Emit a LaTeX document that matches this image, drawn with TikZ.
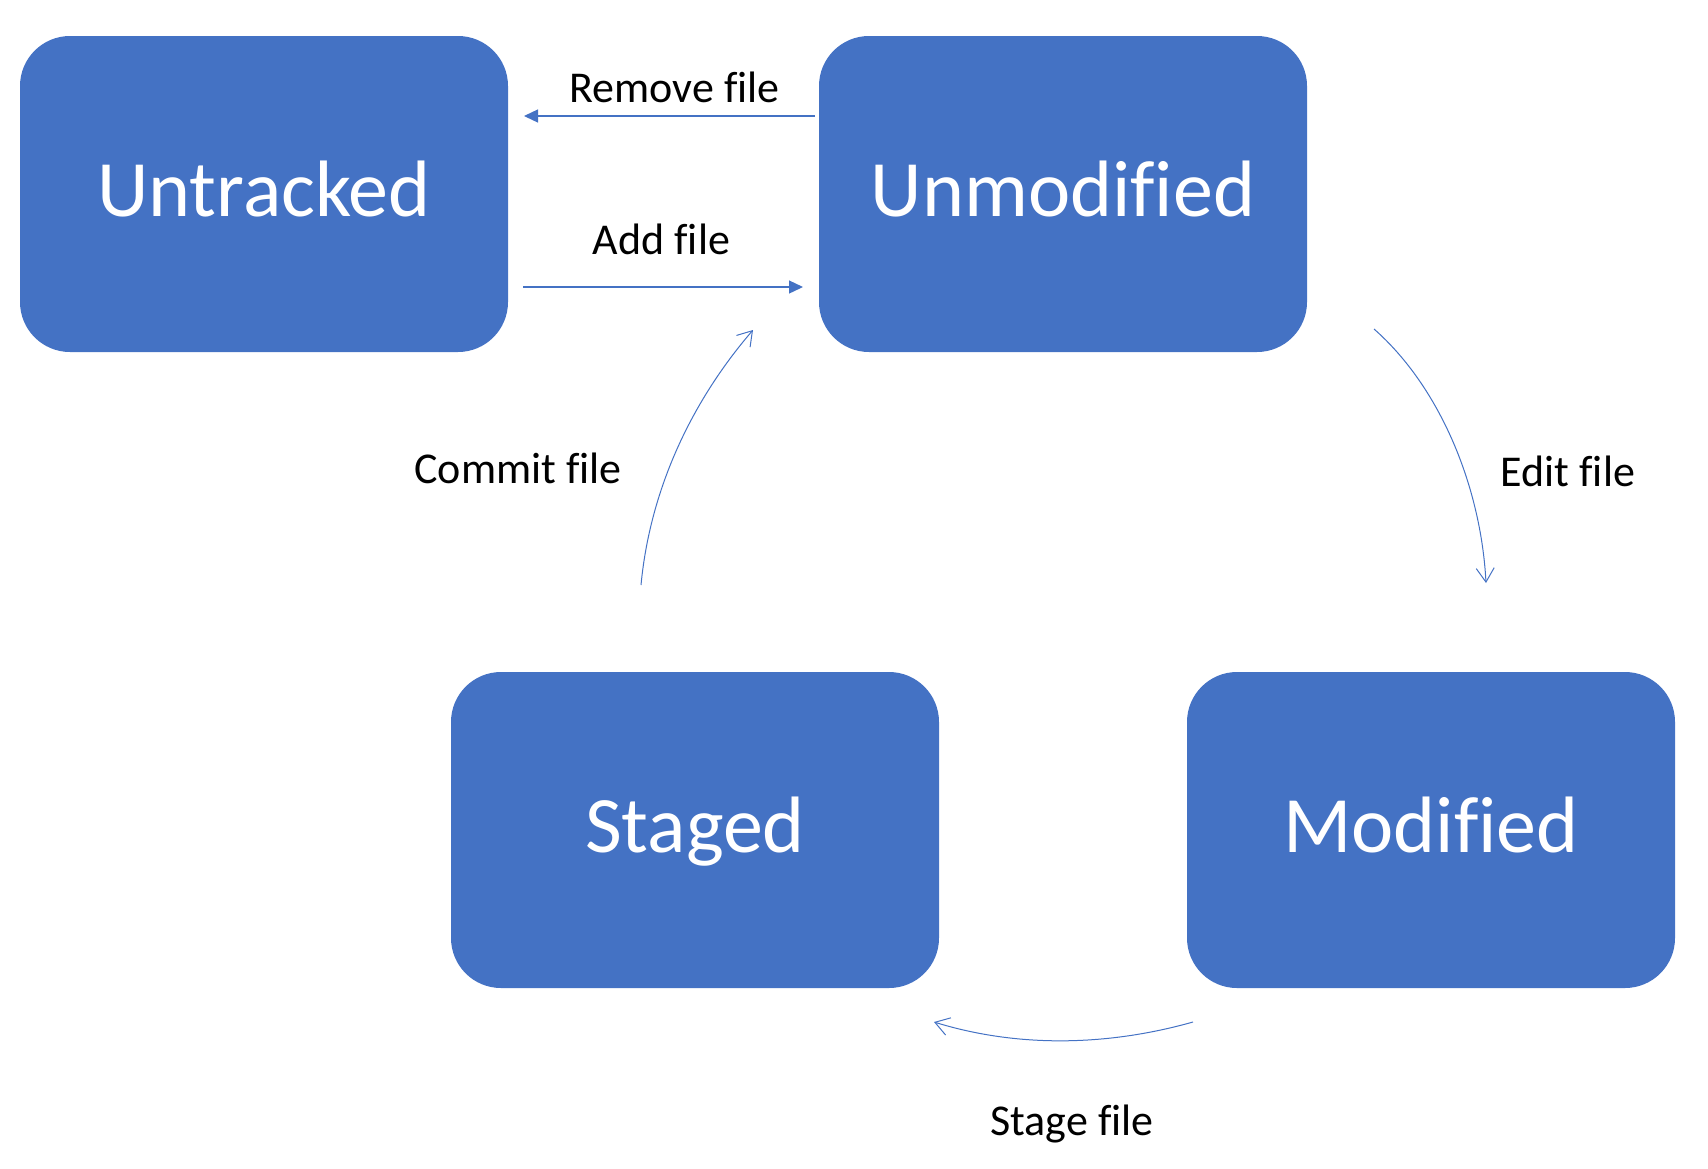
\documentclass[tikz,border=0pt]{standalone}
\usepackage{fontspec}
\setmainfont{Carlito}[Ligatures=NoCommon]
\usetikzlibrary{arrows.meta}
\definecolor{boxblue}{HTML}{4472C4}
\tikzset{
  statebox/.style={rectangle, rounded corners=25pt, fill=boxblue, draw=none,
    minimum width=244pt, minimum height=158pt, inner sep=0pt,
    text=white, font=\fontsize{40}{48}\selectfont, text height=22pt, text depth=0pt},
  lbl/.style={anchor=base, inner sep=0pt, text=black, font=\fontsize{22}{26}\selectfont},
  straightarrow/.style={draw=boxblue, line width=0.65pt, -{Triangle[length=7pt,width=6.5pt]}},
  curvearrow/.style={draw=boxblue, line width=0.5pt, -{Straight Barb[length=7pt,width=9pt]}}
}
\begin{document}
\begin{tikzpicture}[x=0.5pt, y=-0.5pt]
\useasboundingbox (0,0) rectangle (1708,1168);
% boxes
\node[statebox] (untracked)  at (264,194)  {Untracked};
\node[statebox] (unmodified) at (1063,194) {Unmodified};
\node[statebox] (staged)     at (695,830)  {Staged};
\node[statebox] (modified)   at (1431,830) {Modified};
% connector end points
\coordinate (rmS) at (815,116);
\coordinate (rmE) at (524,116);
\coordinate (adS) at (523,287);
\coordinate (adE) at (803,287);
\coordinate (cmS) at (641,585);
\coordinate (cmE) at (753,330);
\coordinate (edS) at (1374,329);
\coordinate (edE) at (1486,583);
\coordinate (stS) at (1193,1022);
\coordinate (stE) at (934,1022);
% connectors
\draw[straightarrow] (rmS) -- (rmE);
\draw[straightarrow] (adS) -- (adE);
\draw[curvearrow] (cmS) .. controls (650,490) and (691,402) .. (cmE);
\draw[curvearrow] (edS) .. controls (1441,388) and (1481,488) .. (edE);
\draw[curvearrow] (stS) .. controls (1108,1046) and (1018,1048) .. (stE);
% labels
\node[lbl] (lremove) at (674.5,102) {Remove file};
\node[lbl] (ladd)    at (661.5,254) {Add file};
\node[lbl] (lcommit) at (518,483)   {Commit file};
\node[lbl] (ledit)   at (1568,486)  {Edit file};
\node[lbl] (lstage)  at (1072,1135) {Stage file};
\end{tikzpicture}
\end{document}
